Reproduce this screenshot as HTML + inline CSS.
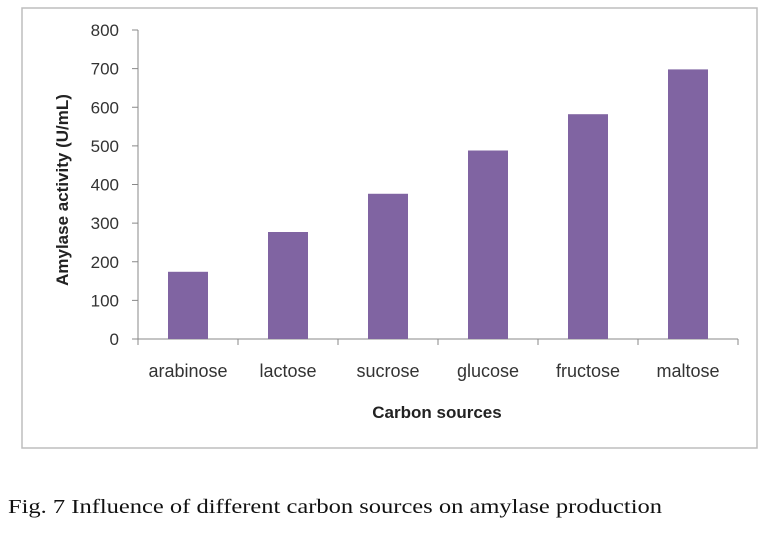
<!DOCTYPE html>
<html><head><meta charset="utf-8"><style>
body{margin:0;background:#fff;width:768px;height:530px;overflow:hidden}
svg text{font-family:"Liberation Sans",sans-serif}
</style></head><body>
<svg width="768" height="530">
<rect x="22" y="8" width="735" height="440" fill="#fff" stroke="#bdbdbd" stroke-width="1.5"/>
<g id="axes"></g><g id="bars"></g>
<text x="0" y="0" transform="translate(68,190) rotate(-90)" text-anchor="middle" font-size="17" font-weight="bold" fill="#222">Amylase activity (U/mL)</text>
<text x="437" y="418" text-anchor="middle" font-size="17" font-weight="bold" fill="#222">Carbon sources</text>
<text x="8" y="513" font-size="20" textLength="654" lengthAdjust="spacingAndGlyphs" fill="#111" style="font-family:'Liberation Serif',serif">Fig. 7 Influence of different carbon sources on amylase production</text>
</svg>
<script>
const categories=["arabinose","lactose","sucrose","glucose","fructose","maltose"];
const values=[174,277,376,488,582,698];
const yTicks=[0,100,200,300,400,500,600,700,800];
const NS="http://www.w3.org/2000/svg";
const x0=138,catW=100,yZero=339,yTop=30,yMax=800,barW=40;
const y=v=>yZero-(v/yMax)*(yZero-yTop);
const xc=i=>x0+catW*(i+0.5);
function mk(t,a,p){const e=document.createElementNS(NS,t);for(const k in a)e.setAttribute(k,a[k]);p.appendChild(e);return e;}
const ax=document.getElementById('axes'),bg=document.getElementById('bars');
const yl=mk('line',{x1:x0,x2:x0,y1:yTop,y2:yZero,stroke:'#888'},ax);


const xl=mk('line',{x1:x0-6,x2:x0+catW*categories.length,y1:yZero,y2:yZero,stroke:'#888'},ax);


yTicks.forEach(v=>{
 mk('line',{x1:x0-6,x2:x0,y1:y(v),y2:y(v),stroke:'#888'},ax);
 const t=mk('text',{x:x0-19,y:y(v)+6,'text-anchor':'end','font-size':17,fill:'#333'},ax);
 t.textContent=v;
 
 
});
for(let i=0;i<=categories.length;i++)mk('line',{x1:x0+catW*i,x2:x0+catW*i,y1:yZero,y2:yZero+6,stroke:'#888'},ax);
categories.forEach((c,i)=>{
 const r=mk('rect',{x:xc(i)-barW/2,y:y(values[i]),width:barW,height:yZero-y(values[i]),fill:'#8064a2'},bg);
 
 
 const t=mk('text',{x:xc(i),y:yZero+38,'text-anchor':'middle','font-size':18,fill:'#333'},ax);
 t.textContent=c;
 
 
});
</script>
</body></html>
